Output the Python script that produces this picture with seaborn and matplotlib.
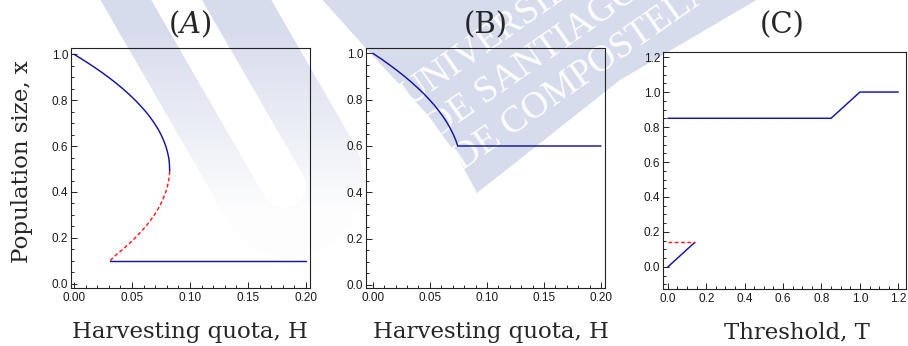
import numpy as np
import matplotlib
matplotlib.use("Agg")
import matplotlib.pyplot as plt
import seaborn as sns
from matplotlib.patches import Polygon
from matplotlib.ticker import MultipleLocator, FormatStrFormatter

# ---------------- data ----------------
# (A) constant-quota harvesting: equilibria vs quota H
quota_a_stable = [0.000, 0.0080, 0.0157, 0.0229, 0.0297, 0.0361, 0.0421, 0.0476, 0.0528,
                  0.0575, 0.0619, 0.0658, 0.0693, 0.0724, 0.0751, 0.0773, 0.0792, 0.0806,
                  0.0817, 0.0823, 0.0825, 0.0825]
pop_a_stable = [1.000, 0.975, 0.950, 0.925, 0.900, 0.875, 0.850, 0.825, 0.800,
                0.775, 0.750, 0.725, 0.700, 0.675, 0.650, 0.625, 0.600, 0.575,
                0.550, 0.525, 0.500, 0.490]
quota_a_unstable = [0.0825, 0.0823, 0.0817, 0.0806, 0.0792, 0.0773, 0.0751, 0.0724, 0.0693,
                    0.0658, 0.0619, 0.0575, 0.0528, 0.0476, 0.0421, 0.0361, 0.0310]
pop_a_unstable = [0.490, 0.475, 0.450, 0.425, 0.400, 0.375, 0.350, 0.325, 0.300,
                  0.275, 0.250, 0.225, 0.200, 0.175, 0.150, 0.125, 0.100]
quota_a_low = [0.031, 0.200]
pop_a_low = [0.10, 0.10]

# (B) harvesting with a protected population level
quota_b = [0.000, 0.0076, 0.0147, 0.0215, 0.0279, 0.0339, 0.0395, 0.0448, 0.0496,
           0.0541, 0.0581, 0.0618, 0.0651, 0.0680, 0.0705, 0.0727, 0.0744, 0.200]
pop_b = [1.000, 0.975, 0.950, 0.925, 0.900, 0.875, 0.850, 0.825, 0.800,
         0.775, 0.750, 0.725, 0.700, 0.675, 0.650, 0.625, 0.600, 0.600]

# (C) equilibria vs threshold T
thr_c_low = [0.00, 0.14]
pop_c_low = [0.00, 0.14]
thr_c_unstable = [0.00, 0.14]
pop_c_unstable = [0.14, 0.14]
thr_c_high = [0.00, 0.85, 1.00, 1.20]
pop_c_high = [0.85, 0.85, 1.00, 1.00]

titles = [r"($\mathit{A}$)", "(B)", "(C)"]
xlabels = ["Harvesting quota, H", "Harvesting quota, H", "Threshold, T"]
ylabel = "Population size, x"
seal_lines = ["UNIVERSIDADE", "DE SANTIAGO", "DE COMPOSTELA"]

BLUE = "#1414a0"
RED = "#ff1a1a"
WM = "#d7dcec"

sns.set_theme(style="white")
plt.rcParams["font.family"] = ["Liberation Sans", "DejaVu Sans"]
plt.rcParams["mathtext.fontset"] = "dejavuserif"
SERIF = ["DejaVu Serif"]

W, H = 908, 346
fig = plt.figure(figsize=(W / 100, H / 100), dpi=100)

# ---------------- watermark layer (pixel coordinates, y downwards) ----------------
bg = fig.add_axes([0, 0, 1, 1], zorder=-10)
bg.set_xlim(0, W)
bg.set_ylim(H, 0)
bg.axis("off")

def u_shape(cx, cy, ang, r_in, r_out_l, r_out_r, arm=500):
    a = np.deg2rad(ang)
    d = np.array([np.sin(a), np.cos(a)])
    n = np.array([np.cos(a), -np.sin(a)])
    c = np.array([cx, cy])
    phi = np.linspace(0, np.pi, 80)
    r_out = r_out_l + (r_out_r - r_out_l) * phi / np.pi
    loc = [(-r_out_l, -arm)]
    loc += list(zip(-r_out * np.cos(phi), r_out * np.sin(phi)))
    loc += [(r_out_r, -arm), (r_in, -arm)]
    loc += list(zip(-r_in * np.cos(phi[::-1]), r_in * np.sin(phi[::-1])))
    loc += [(-r_in, -arm)]
    return np.array([c + s * n + t * d for s, t in loc])

rgb = np.array(matplotlib.colors.to_rgb(WM))
yy = np.linspace(0, H, H)[:, None] * np.ones((1, W))
img = np.zeros((H, W, 4))
img[..., :3] = rgb
img[..., 3] = np.clip(1 - (yy - 30) / 190, 0.05, 1.0)
u_patch = Polygon(u_shape(284, 186, 30, 22, 66, 82), closed=True,
                  facecolor="none", edgecolor="none")
bg.add_patch(u_patch)
im = bg.imshow(img, extent=(0, W, H, 0), aspect="auto", interpolation="bilinear")
im.set_clip_path(u_patch)

block = Polygon([(318, -5), (372, 55), (425, 112), (455, 152), (477, 193),
                 (620, 80), (765, -5)], closed=True, facecolor=WM, edgecolor="none")
bg.add_patch(block)
corner = np.array([477.0, 195.0])
left_dir = np.array([0.637, 0.772])
line_dir = np.array([0.819, -0.574])
for text, p in zip(seal_lines, [112, 70, 28]):
    sx, sy = corner - p * left_dir + 4 * line_dir
    bg.text(sx, sy, text, color="white", fontsize=27, family=["Liberation Serif"],
            rotation=35, rotation_mode="anchor", ha="left", va="baseline",
            alpha=0.95)
bg.set_xlim(0, W)
bg.set_ylim(H, 0)

# ---------------- panels ----------------
def frame(x0, x1, y0, y1):
    return [x0 / W, 1 - y1 / H, (x1 - x0) / W, (y1 - y0) / H]

ax_a = fig.add_axes(frame(71, 310, 48, 288))
ax_b = fig.add_axes(frame(366, 605, 48, 288))
ax_c = fig.add_axes(frame(663, 906, 52, 289))

def style(ax, xlim, ylim, xmaj, xmin, ymaj, ymin, xfmt, yfmt):
    ax.set_facecolor("none")
    ax.set_xlim(*xlim)
    ax.set_ylim(*ylim)
    ax.xaxis.set_major_locator(MultipleLocator(xmaj))
    ax.xaxis.set_minor_locator(MultipleLocator(xmin))
    ax.yaxis.set_major_locator(MultipleLocator(ymaj))
    ax.yaxis.set_minor_locator(MultipleLocator(ymin))
    ax.xaxis.set_major_formatter(FormatStrFormatter(xfmt))
    ax.yaxis.set_major_formatter(FormatStrFormatter(yfmt))
    ax.tick_params(which="both", direction="in", top=False, right=False,
                   bottom=True, left=True, color="#222222", width=0.7,
                   labelsize=8.5, labelcolor="#1a1a1a")
    ax.tick_params(which="major", length=4)
    ax.tick_params(which="minor", length=2)
    ax.tick_params(axis="x", pad=3)
    ax.tick_params(axis="y", pad=2)
    for sp in ax.spines.values():
        sp.set_visible(True)
        sp.set_color("#222222")
        sp.set_linewidth(0.8)
    ax.set_xlabel("")
    ax.set_ylabel("")

def draw(ax, xs, ys, color, dashed=False):
    sns.lineplot(x=xs, y=ys, sort=False, estimator=None, color=color,
                 linewidth=1.05, ax=ax)
    if dashed:
        ax.lines[-1].set_linestyle((0, (2.6, 1.7)))

draw(ax_a, quota_a_stable, pop_a_stable, BLUE)
draw(ax_a, quota_a_unstable, pop_a_unstable, RED, dashed=True)
draw(ax_a, quota_a_low, pop_a_low, BLUE)
style(ax_a, (-0.0025, 0.2035), (-0.018, 1.027), 0.05, 0.01, 0.2, 0.05, "%.2f", "%.1f")

draw(ax_b, quota_b, pop_b, BLUE)
style(ax_b, (-0.006, 0.2035), (-0.013, 1.023), 0.05, 0.01, 0.2, 0.05, "%.2f", "%.1f")

draw(ax_c, thr_c_low, pop_c_low, BLUE)
draw(ax_c, thr_c_unstable, pop_c_unstable, RED, dashed=True)
draw(ax_c, thr_c_high, pop_c_high, BLUE)
style(ax_c, (-0.025, 1.24), (-0.126, 1.229), 0.2, 0.05, 0.2, 0.05, "%.1f", "%.1f")

# titles and axis labels
title_x = [190, 486, 782]
for t, xc in zip(titles, title_x):
    fig.text(xc / W, 1 - 33 / H, t, ha="center", va="baseline",
             fontsize=21, family=SERIF)

label_x = [190, 491, 797]
for lab, xc in zip(xlabels, label_x):
    fig.text(xc / W, 1 - 338 / H, lab, ha="center", va="baseline",
             fontsize=16.5, family=SERIF)

fig.text(22 / W, 1 - 162 / H, ylabel, rotation=90, ha="center", va="center",
         fontsize=16.5, family=SERIF)

fig.savefig("out.png", dpi=100)
